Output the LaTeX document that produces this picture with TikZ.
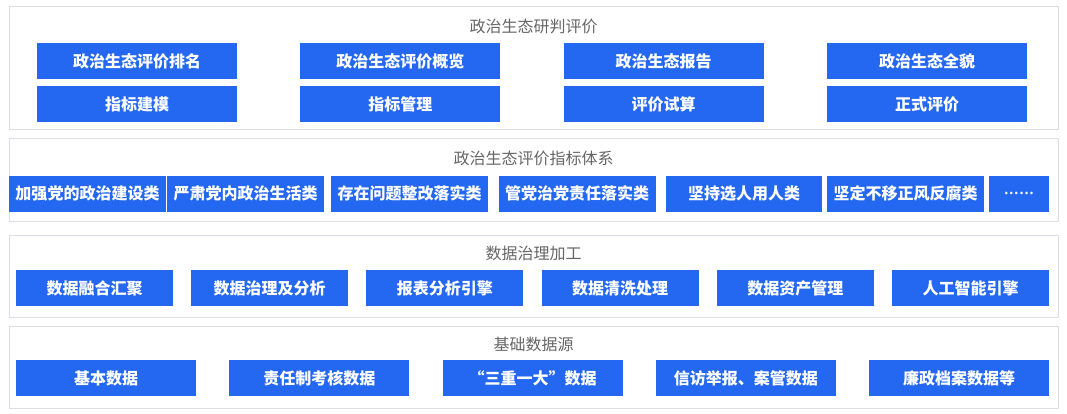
\documentclass[tikz,border=0pt]{standalone}
\usepackage{fontspec}
\newfontfamily\cjk{Noto Sans CJK SC}
\newfontfamily\latin{Noto Sans}
\definecolor{boxblue}{HTML}{2468F2}
\definecolor{panelline}{HTML}{DDDDEA}
\definecolor{titlegray}{HTML}{666666}
\begin{document}
\begin{tikzpicture}[x=1pt, y=-1pt,
  panel/.style={draw=panelline, line width=1pt},
  title/.style={text=titlegray, font=\cjk\fontsize{16}{17}\selectfont, inner sep=0pt},
  item/.style={fill=boxblue, text=white, font=\cjk\bfseries\fontsize{16}{17}\selectfont, minimum height=36pt, inner sep=0pt}]
\useasboundingbox[fill=white] (0,0) rectangle (1067,414);
\draw[panel] (9,7) rectangle (1058,130);
\draw[panel] (9,139) rectangle (1058,221);
\draw[panel] (9,235) rectangle (1058,317);
\draw[panel] (9,326) rectangle (1058,408);
\node[title] (T1) at (533.5,26) {政治生态研判评价};
\node[title] (T2) at (533.5,158) {政治生态评价指标体系};
\node[title] (T3) at (533.5,253) {数据治理加工};
\node[title] (T4) at (533.5,344) {基础数据源};
\node[item, minimum width=200pt] (A1) at (137,61) {政治生态评价排名};
\node[item, minimum width=200pt] (A2) at (400.3,61) {政治生态评价概览};
\node[item, minimum width=200pt] (A3) at (663.7,61) {政治生态报告};
\node[item, minimum width=200pt] (A4) at (927,61) {政治生态全貌};
\node[item, minimum width=200pt] (B1) at (137,104) {指标建模};
\node[item, minimum width=200pt] (B2) at (400.3,104) {指标管理};
\node[item, minimum width=200pt] (B3) at (663.7,104) {评价试算};
\node[item, minimum width=200pt] (B4) at (927,104) {正式评价};
\node[item, minimum width=157pt] (C1) at (87.5,193.7) {加强党的政治建设类};
\node[item, minimum width=157pt] (C2) at (245.5,193.7) {严肃党内政治生活类};
\node[item, minimum width=157pt] (C3) at (409.5,193.7) {存在问题整改落实类};
\node[item, minimum width=157pt] (C4) at (577,193.7) {管党治党责任落实类};
\node[item, minimum width=156pt] (C5) at (744,193.7) {坚持选人用人类};
\node[item, minimum width=157pt] (C6) at (905.5,193.7) {坚定不移正风反腐类};
\node[item, minimum width=60pt, font=\latin\bfseries\fontsize{19}{20}\selectfont] (C7) at (1019,193.7) {……};
\node[item, minimum width=157pt] (D1) at (94.5,288) {数据融合汇聚};
\node[item, minimum width=157pt] (D2) at (269.7,288) {数据治理及分析};
\node[item, minimum width=157pt] (D3) at (444.9,288) {报表分析引擎};
\node[item, minimum width=157pt] (D4) at (620.1,288) {数据清洗处理};
\node[item, minimum width=157pt] (D5) at (795.3,288) {数据资产管理};
\node[item, minimum width=157pt] (D6) at (970.5,288) {人工智能引擎};
\node[item, minimum width=180pt] (E1) at (106,378) {基本数据};
\node[item, minimum width=180pt] (E2) at (319.25,378) {责任制考核数据};
\node[item, minimum width=180pt] (E3) at (532.5,378) {“三重一大”数据};
\node[item, minimum width=180pt] (E4) at (745.75,378) {信访举报、案管数据};
\node[item, minimum width=180pt] (E5) at (959,378) {廉政档案数据等};
\end{tikzpicture}
\end{document}
